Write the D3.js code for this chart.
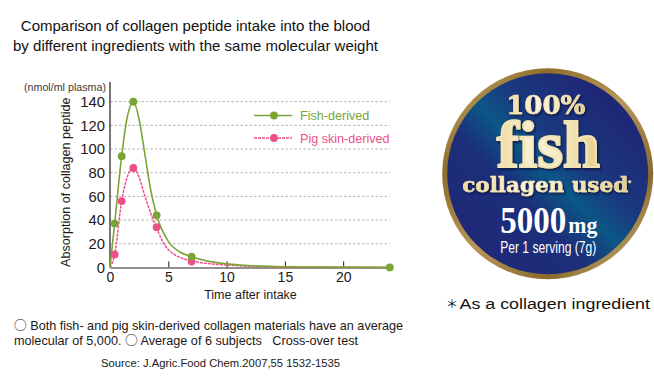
<!DOCTYPE html>
<html>
<head>
<meta charset="utf-8">
<title>Collagen peptide absorption</title>
<script src="https://cdnjs.cloudflare.com/ajax/libs/d3/7.8.5/d3.min.js"></script>
<style>
  html, body { margin: 0; padding: 0; background: #fff; }
  svg { display: block; }
  text { font-family: "Liberation Sans", Arial, sans-serif; }
  .ring { font-family: "Noto Sans CJK JP", sans-serif; }
</style>
</head>
<body>
<div id="chart"></div>
<script>
// measured points (the dots)
var sampleHours = [0.4, 1, 2, 4, 7];
var fishValues = [37, 94, 140, 44, 9];
var pigValues = [11, 56, 84, 34, 5];
var lastHour = [24];
var lastFish = [0];

// line, separately from the dots
var fishLineHours = [0, 0.4, 1, 1.5, 2, 2.5, 3, 3.5, 4, 5, 6, 7, 10, 15, 24];
var fishLineValues = [0, 37, 94, 128, 140, 125, 95, 65, 44, 22, 13, 9, 3, 0.5, 0];
var pigLineHours = [0, 0.4, 1, 1.5, 2, 2.5, 3, 4, 5, 7, 10, 15, 24];
var pigLineValues = [0, 11, 56, 77, 84, 76, 60, 33, 15, 5.5, 2, 0.3, 0];

var xTicks = [0, 5, 10, 15, 20];
var yTicks = [0, 20, 40, 60, 80, 100, 120, 140];
var gridTicks = [20, 40, 60, 80, 100, 120, 140];

var width = 654, height = 376;
var green = "#7aa535", pink = "#ee4f8b", ink = "#231815";

var svg = d3.select("#chart").append("svg")
    .attr("width", width)
    .attr("height", height);

var x = d3.scaleLinear().domain([0, 24]).range([110, 389.8]);
var y = d3.scaleLinear().domain([0, 140]).range([267.4, 101.7]);

// title
var titleLines = ["Comparison of collagen peptide intake into the blood",
                  "by different ingredients with the same molecular weight"];
svg.selectAll(".title")
    .data(titleLines)
    .enter().append("text")
    .attr("class", "title")
    .attr("x", 195.5)
    .attr("y", function(d, i) { return 30.5 + i * 20.5; })
    .attr("text-anchor", "middle")
    .attr("font-size", 15)
    .attr("fill", "#111")
    .text(function(d) { return d; });

// grid
svg.selectAll(".grid")
    .data(gridTicks)
    .enter().append("line")
    .attr("class", "grid")
    .attr("x1", x(0))
    .attr("x2", x(24))
    .attr("y1", function(d) { return y(d); })
    .attr("y2", function(d) { return y(d); })
    .attr("stroke", "#b5b5b5")
    .attr("stroke-width", 1)
    .attr("stroke-dasharray", "2.5,2");

// axes
var xAxis = d3.axisBottom(x).tickValues(xTicks).tickSizeInner(-6).tickSizeOuter(0).tickPadding(5);
var gx = svg.append("g")
    .attr("transform", "translate(0," + y(0) + ")")
    .call(xAxis);
gx.select(".domain").attr("stroke", "#6e6a68").attr("stroke-width", 1.5);
gx.selectAll(".tick line").attr("stroke", ink);
gx.selectAll(".tick text")
    .attr("font-size", 14)
    .attr("font-family", "Liberation Sans")
    .attr("fill", ink);
gx.selectAll(".tick").filter(function(d) { return d === 0; }).select("line").remove();

var yAxis = d3.axisLeft(y).tickValues(yTicks).tickSize(0).tickPadding(5);
var gy = svg.append("g")
    .attr("transform", "translate(" + x(0) + ",0)")
    .call(yAxis);
gy.select(".domain").remove();
gy.selectAll(".tick text")
    .attr("font-size", 14.8)
    .attr("font-family", "Liberation Sans")
    .attr("fill", ink);
svg.append("line")
    .attr("x1", x(0)).attr("x2", x(0))
    .attr("y1", 82).attr("y2", y(0))
    .attr("stroke", ink)
    .attr("stroke-width", 1.2);

svg.append("text")
    .attr("x", 24).attr("y", 90.5)
    .attr("font-size", 10.7)
    .attr("fill", "#3e3a39")
    .text("(nmol/ml plasma)");
svg.append("text")
    .attr("transform", "translate(69.5,267) rotate(-90)")
    .attr("font-size", 12.6)
    .attr("fill", ink)
    .text("Absorption of collagen peptide");
svg.append("text")
    .attr("x", 250.5).attr("y", 299)
    .attr("text-anchor", "middle")
    .attr("font-size", 12.5)
    .attr("fill", ink)
    .text("Time after intake");

// lines
var line = d3.line()
    .x(function(d) { return x(d[0]); })
    .y(function(d) { return y(d[1]); })
    .curve(d3.curveMonotoneX);

svg.append("path")
    .datum(d3.zip(pigLineHours, pigLineValues))
    .attr("d", line)
    .attr("fill", "none")
    .attr("stroke", pink)
    .attr("stroke-width", 1.5)
    .attr("stroke-dasharray", "3,1");
svg.append("path")
    .datum(d3.zip(fishLineHours, fishLineValues))
    .attr("d", line)
    .attr("fill", "none")
    .attr("stroke", green)
    .attr("stroke-width", 1.6);

// dots, pig first so the green stays on top where they touch
svg.selectAll(".pig")
    .data(d3.zip(sampleHours, pigValues))
    .enter().append("circle")
    .attr("class", "pig")
    .attr("cx", function(d) { return x(d[0]); })
    .attr("cy", function(d) { return y(d[1]); })
    .attr("r", 3.9)
    .attr("fill", pink);
svg.selectAll(".fish")
    .data(d3.zip(sampleHours.concat(lastHour), fishValues.concat(lastFish)))
    .enter().append("circle")
    .attr("class", "fish")
    .attr("cx", function(d) { return x(d[0]); })
    .attr("cy", function(d) { return y(d[1]); })
    .attr("r", 3.9)
    .attr("fill", green);

// legend
var legendNames = ["Fish-derived", "Pig skin-derived"];
var legendColors = [green, pink];
var legend = svg.selectAll(".legend")
    .data(legendNames)
    .enter().append("g")
    .attr("class", "legend")
    .attr("transform", function(d, i) { return "translate(254," + (115.5 + i * 22.5) + ")"; });
legend.append("line")
    .attr("x1", 0).attr("x2", 38)
    .attr("stroke", function(d, i) { return legendColors[i]; })
    .attr("stroke-width", 1.5)
    .attr("stroke-dasharray", function(d, i) { return i ? "3,1" : null; });
legend.append("circle")
    .attr("cx", 20)
    .attr("r", 3.9)
    .attr("fill", function(d, i) { return legendColors[i]; });
legend.append("text")
    .attr("x", 46).attr("y", 4.5)
    .attr("font-size", 12.6)
    .attr("fill", function(d, i) { return legendColors[i]; })
    .text(function(d) { return d; });

// notes under the chart
var ringMark = "<tspan class='ring' font-size='12.5'>\u25CB</tspan>";
var noteRows = [
  {x: 14, y: 329.5, t: ringMark + " Both fish- and pig skin-derived collagen materials have an average", len: 389},
  {x: 14, y: 344.5, t: "molecular of 5,000.  " + ringMark + " Average of 6 subjects\u00A0\u00A0\u00A0Cross-over test", len: 344}
];
svg.selectAll(".note")
    .data(noteRows)
    .enter().append("text")
    .attr("class", "note")
    .attr("x", function(d) { return d.x; })
    .attr("y", function(d) { return d.y; })
    .attr("font-size", 12.4)
    .attr("fill", ink)
    .attr("textLength", function(d) { return d.len; })
    .attr("lengthAdjust", "spacingAndGlyphs")
    .html(function(d) { return d.t; });
svg.append("text")
    .attr("x", 101).attr("y", 367)
    .attr("font-size", 10.2)
    .attr("fill", ink)
    .attr("textLength", 239)
    .attr("lengthAdjust", "spacingAndGlyphs")
    .text("Source: J.Agric.Food Chem.2007,55 1532-1535");

// badge
var defs = svg.append("defs");

var ringGrad = defs.append("linearGradient")
    .attr("id", "ringFill")
    .attr("x1", "0%").attr("y1", "0%").attr("x2", "100%").attr("y2", "100%");
ringGrad.selectAll("stop")
    .data([[0, "#cdb67c"], [0.25, "#8f6d2a"], [0.5, "#b9975a"], [0.75, "#8a6a2c"], [1, "#d9c792"]])
    .enter().append("stop")
    .attr("offset", function(d) { return d[0]; })
    .attr("stop-color", function(d) { return d[1]; });

var blueGrad = defs.append("linearGradient")
    .attr("id", "blue")
    .attr("x1", "18%").attr("y1", "82%").attr("x2", "82%").attr("y2", "18%");
blueGrad.selectAll("stop")
    .data([[0, "#1e2a78"], [0.3, "#1c2e7a"], [0.5, "#0b5786"], [0.66, "#1a3a80"], [1, "#1e2876"]])
    .enter().append("stop")
    .attr("offset", function(d) { return d[0]; })
    .attr("stop-color", function(d) { return d[1]; });

var goldGrad = defs.append("linearGradient")
    .attr("id", "gold")
    .attr("x1", "0%").attr("y1", "0%").attr("x2", "100%").attr("y2", "0%");
goldGrad.selectAll("stop")
    .data([[0, "#f0d9a0"], [0.4, "#fbf4dc"], [0.7, "#f5e5b8"], [1, "#e6cc8a"]])
    .enter().append("stop")
    .attr("offset", function(d) { return d[0]; })
    .attr("stop-color", function(d) { return d[1]; });

defs.append("filter")
    .attr("id", "lift")
    .attr("x", "-10%").attr("y", "-10%").attr("width", "125%").attr("height", "125%")
  .append("feDropShadow")
    .attr("dx", 1.3).attr("dy", 1.5)
    .attr("stdDeviation", 0.8)
    .attr("flood-color", "#0a1440");

var badge = svg.append("g").attr("transform", "translate(547.7,173.8)");
badge.append("circle").attr("r", 105.5).attr("fill", "url(#ringFill)");
badge.append("circle").attr("r", 100.5).attr("fill", "url(#blue)");

var goldRows = [
  {t: "100%", x: -2, y: -60, size: 26, len: 79, weight: 0.7, family: "DejaVu Serif"},
  {t: "fish", x: 0.5, y: -7, size: 66, len: 103, weight: 2.2, family: "Liberation Serif"},
  {t: "collagen used", x: -2.5, y: 18, size: 20, len: 166, weight: 0.5, family: "DejaVu Serif"}
];
badge.selectAll(".goldText")
    .data(goldRows)
    .enter().append("text")
    .attr("class", "goldText")
    .attr("x", function(d) { return d.x; })
    .attr("y", function(d) { return d.y; })
    .attr("text-anchor", "middle")
    .attr("font-size", function(d) { return d.size; })
    .attr("font-weight", "bold")
    .style("font-family", function(d) { return d.family; })
    .attr("fill", "url(#gold)")
    .attr("stroke", "#f3e3b5")
    .attr("stroke-width", function(d) { return d.weight; })
    .attr("filter", "url(#lift)")
    .attr("textLength", function(d) { return d.len; })
    .attr("lengthAdjust", "spacingAndGlyphs")
    .text(function(d) { return d.t; });
badge.append("text")
    .attr("x", 80).attr("y", 12)
    .attr("font-size", 9)
    .attr("font-weight", "bold")
    .attr("fill", "#f5e5b8")
    .text("*");

var whiteRows = [
  {t: "5000", x: -47.5, y: 59.5, size: 37, len: 66},
  {t: "mg", x: 20.6, y: 59.5, size: 24, len: 29},
  {t: "Per 1 serving (7g)", x: -47.5, y: 79, size: 16, len: 96}
];
badge.selectAll(".whiteText")
    .data(whiteRows)
    .enter().append("text")
    .attr("class", "whiteText")
    .attr("x", function(d) { return d.x; })
    .attr("y", function(d) { return d.y; })
    .attr("font-size", function(d) { return d.size; })
    .attr("font-weight", function(d, i) { return i === 2 ? "normal" : "bold"; })
    .style("font-family", function(d, i) { return i === 2 ? "Liberation Sans" : "Liberation Serif"; })
    .attr("fill", "#fff")
    .attr("textLength", function(d) { return d.len; })
    .attr("lengthAdjust", "spacingAndGlyphs")
    .text(function(d) { return d.t; });

svg.append("text")
    .attr("class", "ring")
    .attr("x", 446).attr("y", 308.5)
    .attr("font-size", 12)
    .attr("fill", "#111")
    .text("\uFF0A");
svg.append("text")
    .attr("x", 459.5).attr("y", 308.5)
    .attr("font-size", 15.4)
    .attr("fill", "#111")
    .attr("textLength", 190.5)
    .attr("lengthAdjust", "spacingAndGlyphs")
    .text("As a collagen ingredient");
</script>
</body>
</html>
